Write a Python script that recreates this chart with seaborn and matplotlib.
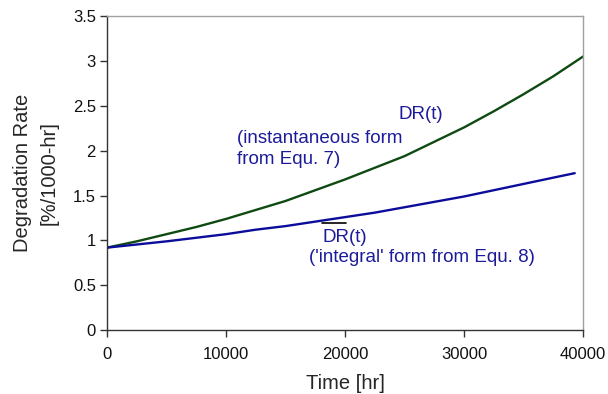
import matplotlib

matplotlib.use("Agg")

import numpy as np
import pandas as pd
import matplotlib.pyplot as plt
import seaborn as sns

# Values
time_inst = [0, 2500, 5000, 7500, 10000, 12500, 15000, 17500, 20000,
             22500, 25000, 27500, 30000, 32500, 35000, 37500, 40000]
dr_inst = [0.92, 0.99, 1.07, 1.15, 1.24, 1.34, 1.44, 1.56, 1.68,
           1.81, 1.94, 2.10, 2.26, 2.44, 2.63, 2.83, 3.05]

time_integral = [0, 2500, 5000, 7500, 10000, 12500, 15000, 17500, 20000,
                 22500, 25000, 27500, 30000, 32500, 35000, 37500, 39300]
dr_integral = [0.92, 0.955, 0.99, 1.03, 1.07, 1.12, 1.16, 1.21, 1.26,
               1.31, 1.37, 1.43, 1.49, 1.56, 1.63, 1.70, 1.75]

x_ticks = [0, 10000, 20000, 30000, 40000]
y_ticks = [0, 0.5, 1, 1.5, 2, 2.5, 3, 3.5]

GREEN = "#0f4a12"
BLUE = "#0c0c9c"
TEXT_BLUE = "#1c1c9a"


def main() -> None:
    sns.set_theme(style="white")
    plt.rcParams["font.family"] = ["Liberation Sans", "DejaVu Sans"]

    df = pd.concat([
        pd.DataFrame({"Time": time_inst, "DR": dr_inst, "Form": "instantaneous"}),
        pd.DataFrame({"Time": time_integral, "DR": dr_integral, "Form": "integral"}),
    ], ignore_index=True)

    fig = plt.figure(figsize=(6.08, 3.94), dpi=100)
    ax = fig.add_axes([0.176, 0.162, 0.783, 0.797])

    sns.lineplot(
        data=df, x="Time", y="DR", hue="Form",
        palette={"instantaneous": GREEN, "integral": BLUE},
        linewidth=1.7, legend=False, ax=ax,
    )

    ax.set_xlim(0, 40000)
    ax.set_ylim(0, 3.5)
    ax.set_xticks(x_ticks)
    ax.set_xticklabels([str(v) for v in x_ticks])
    ax.set_yticks(y_ticks)
    ax.set_yticklabels([f"{v:g}" for v in y_ticks])
    ax.tick_params(axis="both", labelsize=12, direction="out", length=5,
                   width=1, color="#333333", bottom=True, left=True,
                   labelcolor="#111111")
    ax.tick_params(axis="x", pad=7)
    ax.tick_params(axis="y", pad=3)

    ax.set_xlabel("Time [hr]", fontsize=14.5, labelpad=9)
    ax.set_ylabel("Degradation Rate\n[%/1000-hr]", fontsize=14.5,
                  labelpad=10, linespacing=1.55)

    for side in ["left", "bottom"]:
        ax.spines[side].set_color("#333333")
        ax.spines[side].set_linewidth(1.0)
    for side in ["top", "right"]:
        ax.spines[side].set_color("#a0a0a0")
        ax.spines[side].set_linewidth(1.0)

    # Annotations
    ax.text(26390, 2.40, "DR(t)", color=TEXT_BLUE, fontsize=13.5,
            ha="center", va="center")
    ax.text(10920, 2.02, "(instantaneous form\nfrom Equ. 7)",
            color=TEXT_BLUE, fontsize=13.5, ha="left", va="center",
            linespacing=1.36)
    ax.text(18070, 1.037, "DR(t)", color=TEXT_BLUE, fontsize=13.5,
            ha="left", va="center")
    ax.plot([18070, 20080], [1.193, 1.193], color="black", linewidth=1.2)
    ax.text(16970, 0.814, "('integral' form from Equ. 8)", color=TEXT_BLUE,
            fontsize=13.5, ha="left", va="center")

    fig.savefig("out.png", dpi=100)
    plt.close(fig)


if __name__ == "__main__":
    main()
